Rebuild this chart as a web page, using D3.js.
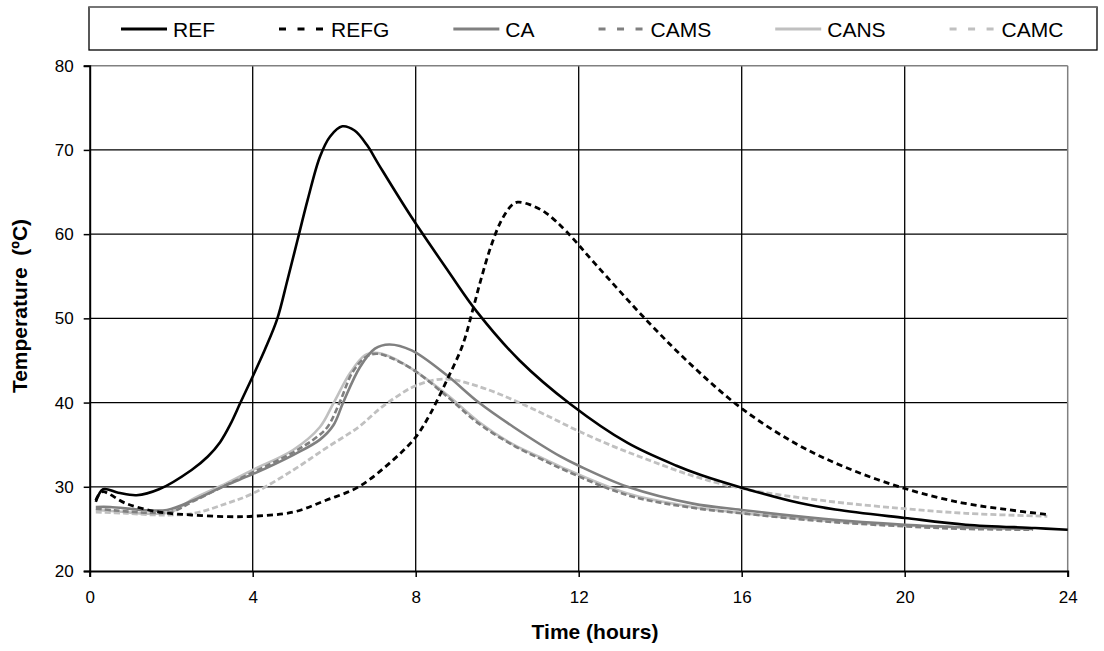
<!DOCTYPE html>
<html>
<head>
<meta charset="utf-8">
<script src="https://cdn.jsdelivr.net/npm/d3@7"></script>
<style>
  body { margin: 0; background: #fff; }
  svg { display: block; font-family: Arial, "Liberation Sans", sans-serif; }
</style>
</head>
<body>
<div id="chart"></div>
<script>
// temperature readings, [hour, ºC]
const refData = [[0.15,28.2],[0.33,29.7],[0.7,29.3],[1.15,29.0],[1.7,29.7],[2.5,32.0],[2.9,33.6],[3.2,35.3],[3.45,37.4],[3.7,40.0],[4.0,43.1],[4.3,46.3],[4.6,49.9],[4.85,54.5],[5.1,59.3],[5.35,64.1],[5.65,69.2],[5.9,71.6],[6.2,72.8],[6.5,72.3],[6.8,70.6],[7.1,68.2],[7.9,62.0],[8.8,55.6],[9.5,50.8],[10.55,45.0],[11.8,39.8],[13.2,35.2],[14.4,32.5],[15.0,31.4],[16.0,29.9],[17.4,28.1],[18.3,27.3],[20.0,26.3],[21.5,25.5],[23.2,25.1],[24.0,24.9]];
const refgData = [[0.15,28.4],[0.3,29.4],[0.9,28.0],[1.7,27.0],[2.5,26.65],[3.4,26.45],[4.0,26.5],[5.0,27.0],[5.8,28.4],[6.6,30.0],[7.45,33.2],[8.0,35.9],[8.35,38.6],[8.75,42.5],[9.15,46.8],[9.4,51.0],[9.6,54.6],[9.85,58.6],[10.1,61.6],[10.35,63.4],[10.5,63.8],[10.8,63.5],[11.2,62.5],[11.7,60.3],[12.4,56.5],[13.7,49.6],[14.8,44.3],[16.0,39.3],[17.3,35.2],[18.5,32.4],[20.0,29.8],[21.4,28.1],[22.5,27.3],[23.5,26.7]];
const caData = [[0.15,27.6],[0.5,27.6],[1.3,27.25],[1.9,27.25],[2.55,28.4],[3.35,30.2],[4.0,31.5],[5.0,33.8],[5.65,35.6],[5.98,37.3],[6.22,40.0],[6.63,44.2],[7.0,46.4],[7.35,46.9],[7.9,46.2],[8.75,43.3],[9.55,40.0],[10.4,37.1],[11.55,33.6],[12.0,32.5],[13.2,30.0],[14.8,28.0],[16.0,27.25],[18.0,26.2],[20.0,25.5],[21.5,25.2],[23.15,25.0]];
const camsData = [[0.15,27.4],[0.6,27.2],[1.5,26.9],[2.0,27.0],[2.55,28.3],[3.35,30.2],[4.0,31.7],[5.0,34.1],[5.6,36.0],[5.85,37.2],[6.15,40.2],[6.45,43.6],[6.8,45.5],[7.05,45.8],[7.4,45.3],[8.0,43.7],[8.8,40.6],[9.55,37.5],[10.4,34.9],[11.2,33.0],[11.55,32.2],[13.2,29.0],[14.8,27.5],[16.0,26.85],[18.0,25.9],[20.0,25.3],[21.5,25.0],[23.15,24.9]];
const cansData = [[0.15,27.25],[0.6,27.1],[1.5,26.8],[2.0,27.0],[2.55,28.6],[3.35,30.4],[4.0,32.0],[5.0,34.4],[5.65,37.1],[5.98,39.9],[6.39,43.5],[6.75,45.6],[7.0,45.9],[7.4,45.4],[8.0,43.7],[8.8,40.8],[9.55,37.7],[10.4,35.0],[11.2,33.2],[11.55,32.4],[13.2,29.2],[14.8,27.6],[16.0,26.9],[18.0,26.0],[20.0,25.4],[21.5,25.15],[23.15,25.0]];
const camcData = [[0.15,27.0],[0.9,26.85],[1.7,26.65],[2.55,26.85],[3.35,28.0],[4.0,29.2],[5.0,32.0],[5.8,34.6],[6.6,37.1],[7.1,39.2],[7.5,40.6],[8.0,42.0],[8.7,42.8],[9.55,41.9],[10.4,40.3],[11.2,38.5],[12.0,36.6],[12.85,34.8],[13.65,33.3],[14.8,31.3],[16.0,29.8],[18.1,28.3],[20.0,27.4],[21.5,26.85],[23.5,26.5]];

const seriesNames = ['REF', 'REFG', 'CA', 'CAMS', 'CANS', 'CAMC'];
const xTicks = [0, 4, 8, 12, 16, 20, 24];
const yTicks = [20, 30, 40, 50, 60, 70, 80];

const styles = {
  REF:  { color: '#000000', dash: null,  width: 2.6 },
  REFG: { color: '#000000', dash: '6,4', width: 2.8 },
  CA:   { color: '#808080', dash: null,  width: 2.6 },
  CAMS: { color: '#808080', dash: '6,3', width: 2.6 },
  CANS: { color: '#c0c0c0', dash: null,  width: 2.6 },
  CAMC: { color: '#c0c0c0', dash: '6,3', width: 2.8 }
};
const allData = [refData, refgData, caData, camsData, cansData, camcData];

const width = 1104, height = 651;
const margin = { top: 65.7, right: 36.3, bottom: 80, left: 89.7 };

const svg = d3.select('#chart').append('svg')
  .attr('width', width)
  .attr('height', height);

const x = d3.scaleLinear().domain([0, 24]).range([margin.left, width - margin.right]);
const y = d3.scaleLinear().domain([20, 80]).range([height - margin.bottom, margin.top]);

// grid
svg.append('g').selectAll('line.vg')
  .data(xTicks.slice(1, -1)).enter().append('line')
  .attr('x1', d => x(d)).attr('x2', d => x(d))
  .attr('y1', y(20)).attr('y2', y(80))
  .attr('stroke', '#000').attr('stroke-width', 1.3);
svg.append('g').selectAll('line.hg')
  .data(yTicks.slice(1, -1)).enter().append('line')
  .attr('x1', x(0)).attr('x2', x(24))
  .attr('y1', d => y(d)).attr('y2', d => y(d))
  .attr('stroke', '#000').attr('stroke-width', 1.3);

// plot frame: grey top/right edges
svg.append('line').attr('x1', x(0)).attr('x2', x(24)).attr('y1', y(80)).attr('y2', y(80))
  .attr('stroke', '#808080').attr('stroke-width', 1.5);
svg.append('line').attr('x1', x(24)).attr('x2', x(24)).attr('y1', y(80)).attr('y2', y(20))
  .attr('stroke', '#808080').attr('stroke-width', 1.5);

// axes
const xAxis = svg.append('g')
  .attr('transform', `translate(0,${y(20)})`)
  .call(d3.axisBottom(x).tickValues(xTicks).tickSize(6).tickPadding(14));
const yAxis = svg.append('g')
  .attr('transform', `translate(${x(0)},0)`)
  .call(d3.axisLeft(y).tickValues(yTicks).tickSize(6).tickPadding(10));
[xAxis, yAxis].forEach(ax => {
  ax.select('.domain').attr('stroke', '#000').attr('stroke-width', 2);
  ax.selectAll('.tick line').attr('stroke', '#000').attr('stroke-width', 1.5);
  ax.selectAll('.tick text')
    .attr('font-family', 'Arial, "Liberation Sans", sans-serif')
    .attr('font-size', 17).attr('fill', '#000');
});

// series
const line = d3.line()
  .x(d => x(d[0]))
  .y(d => y(d[1]))
  .curve(d3.curveCatmullRom.alpha(0.5));

svg.append('g').selectAll('path')
  .data(seriesNames.map((name, i) => ({ name, values: allData[i] })).reverse())
  .enter().append('path')
  .attr('d', d => line(d.values))
  .attr('fill', 'none')
  .attr('stroke', d => styles[d.name].color)
  .attr('stroke-width', d => styles[d.name].width)
  .attr('stroke-dasharray', d => styles[d.name].dash)
  .attr('stroke-linejoin', 'round');

// axis titles
svg.append('text')
  .attr('x', 595).attr('y', 639)
  .attr('text-anchor', 'middle')
  .attr('font-weight', 'bold').attr('font-size', 21)
  .text('Time (hours)');
svg.append('text')
  .attr('transform', 'translate(27,306) rotate(-90)')
  .attr('text-anchor', 'middle')
  .attr('font-weight', 'bold').attr('font-size', 21)
  .attr('xml:space', 'preserve')
  .style('white-space', 'pre')
  .text('Temperature  (ºC)');

// legend
const legend = svg.append('g');
legend.append('rect')
  .attr('x', 89).attr('y', 7).attr('width', 1008).attr('height', 43)
  .attr('fill', '#fff').attr('stroke', '#000').attr('stroke-width', 1.3);
legend.append('line')
  .attr('x1', 89).attr('x2', 1097).attr('y1', 7).attr('y2', 7)
  .attr('stroke', '#808080').attr('stroke-width', 1.5);

let lx = 121;
seriesNames.forEach(name => {
  const s = styles[name];
  legend.append('line')
    .attr('x1', lx).attr('x2', lx + 46).attr('y1', 29).attr('y2', 29)
    .attr('stroke', s.color).attr('stroke-width', 2.8)
    .attr('stroke-dasharray', s.dash ? '7,11.5' : null);
  const t = legend.append('text')
    .attr('x', lx + 52).attr('y', 37)
    .attr('font-size', 21)
    .text(name);
  lx += 52 + t.node().getComputedTextLength() + 64;
});
</script>
</body>
</html>
